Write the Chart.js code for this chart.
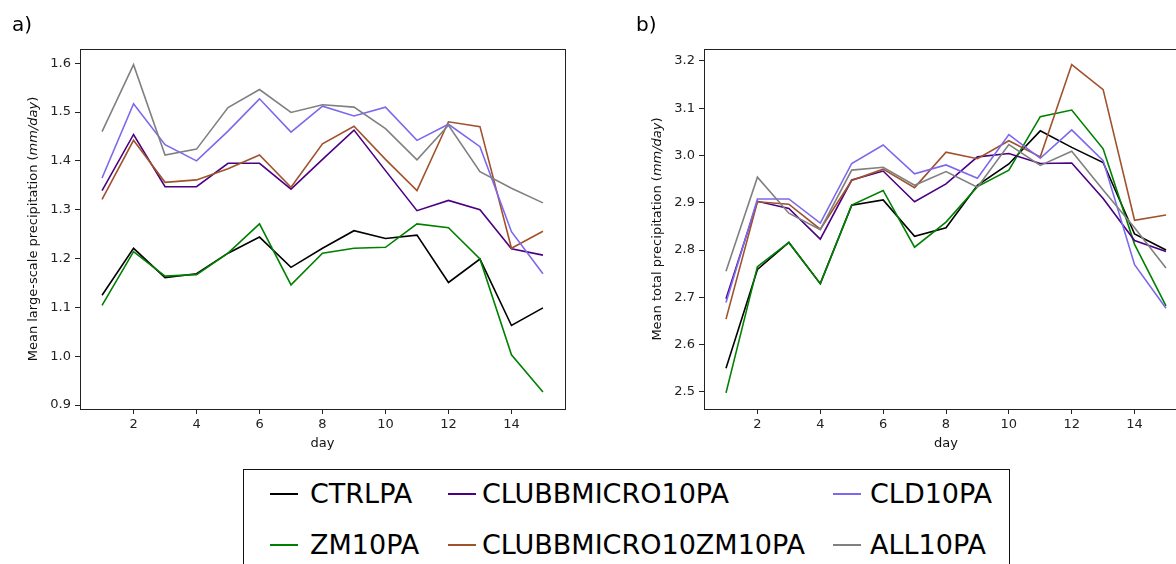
<!DOCTYPE html>
<html>
<head>
<meta charset="utf-8">
<script src="https://cdn.jsdelivr.net/npm/chart.js@4/dist/chart.umd.min.js"></script>
<style>
html,body{margin:0;padding:0;width:1176px;height:564px;overflow:hidden;background:#fff;font-family:"DejaVu Sans",sans-serif;}
#ca{position:absolute;left:0;top:0;}
#cb{position:absolute;left:620px;top:0;}
.pl{position:absolute;font-size:20px;line-height:20px;color:#000;white-space:nowrap;}
#legend{position:absolute;left:243px;top:469px;width:767px;height:140px;border:1px solid #111;box-sizing:border-box;}
.lgline{position:absolute;height:2px;width:28px;}
.lgtext{position:absolute;font-size:27px;line-height:27px;color:#000;white-space:nowrap;}
</style>
</head>
<body>
<canvas id="ca" width="600" height="460"></canvas>
<canvas id="cb" width="600" height="460"></canvas>
<div class="pl" style="left:12px;top:14px;">a)</div>
<div class="pl" style="left:636px;top:14px;">b)</div>
<div id="legend"></div>
<script>
// ---- data ----
const days = [1,2,3,4,5,6,7,8,9,10,11,12,13,14,15];
const dayTicks = [2,4,6,8,10,12,14];
const seriesNames = ['CTRLPA','ZM10PA','CLUBBMICRO10PA','CLUBBMICRO10ZM10PA','CLD10PA','ALL10PA'];
const seriesColors = ['#000000','#008000','#4b0082','#a0522d','#7b68ee','#808080'];

// panel a: mean large-scale precipitation (mm/day)
const lsCTRLPA            = [1.125,1.221,1.161,1.169,1.211,1.244,1.182,1.221,1.257,1.241,1.248,1.151,1.199,1.063,1.099];
const lsZM10PA            = [1.104,1.214,1.164,1.167,1.211,1.271,1.146,1.211,1.221,1.223,1.271,1.263,1.199,1.003,0.927];
const lsCLUBBMICRO10PA    = [1.339,1.454,1.347,1.347,1.395,1.395,1.342,1.403,1.463,1.380,1.298,1.319,1.300,1.220,1.207];
const lsCLUBBMICRO10ZM10PA= [1.321,1.442,1.356,1.361,1.384,1.412,1.346,1.435,1.471,1.403,1.339,1.480,1.470,1.221,1.256];
const lsCLD10PA           = [1.365,1.517,1.433,1.400,1.461,1.527,1.459,1.512,1.492,1.510,1.442,1.475,1.429,1.255,1.169];
const lsALL10PA           = [1.460,1.597,1.412,1.424,1.509,1.546,1.499,1.515,1.510,1.466,1.402,1.473,1.378,1.344,1.314];
const lsTicks = [0.9,1.0,1.1,1.2,1.3,1.4,1.5,1.6];

// panel b: mean total precipitation (mm/day)
const tpCTRLPA            = [2.550,2.759,2.816,2.729,2.895,2.906,2.829,2.847,2.937,2.982,3.052,3.017,2.985,2.834,2.800];
const tpZM10PA            = [2.498,2.765,2.816,2.729,2.895,2.926,2.806,2.859,2.934,2.969,3.082,3.096,3.014,2.812,2.682];
const tpCLUBBMICRO10PA    = [2.697,2.903,2.888,2.823,2.948,2.967,2.902,2.940,2.997,3.004,2.983,2.984,2.909,2.820,2.797];
const tpCLUBBMICRO10ZM10PA= [2.654,2.902,2.897,2.844,2.947,2.971,2.932,3.007,2.993,3.031,2.997,3.192,3.139,2.863,2.874];
const tpCLD10PA           = [2.689,2.908,2.908,2.857,2.983,3.022,2.961,2.980,2.952,3.044,2.994,3.054,2.989,2.769,2.677];
const tpALL10PA           = [2.755,2.954,2.878,2.843,2.969,2.975,2.937,2.966,2.933,3.023,2.979,3.009,2.927,2.847,2.762];
const tpTicks = [2.5,2.6,2.7,2.8,2.9,3.0,3.1,3.2];

const lsSeries = [lsCTRLPA,lsZM10PA,lsCLUBBMICRO10PA,lsCLUBBMICRO10ZM10PA,lsCLD10PA,lsALL10PA];
const tpSeries = [tpCTRLPA,tpZM10PA,tpCLUBBMICRO10PA,tpCLUBBMICRO10ZM10PA,tpCLD10PA,tpALL10PA];

const FONT = '"DejaVu Sans"';

const framePlugin = {
  id: 'frame',
  afterDatasetsDraw(chart) {
    const {ctx, chartArea: a} = chart;
    ctx.save();
    ctx.strokeStyle = '#222';
    ctx.lineWidth = 1;
    ctx.strokeRect(Math.round(a.left) + 0.5, Math.round(a.top) + 0.5,
                   Math.round(a.right - a.left), Math.round(a.bottom - a.top));
    ctx.restore();
  }
};

const axisTitlePlugin = {
  id: 'axisTitles',
  afterDraw(chart, args, opts) {
    const {ctx, chartArea: a} = chart;
    ctx.save();
    ctx.fillStyle = '#111';
    ctx.font = '13px ' + FONT;
    ctx.textAlign = 'center';
    ctx.textBaseline = 'alphabetic';
    ctx.fillText(opts.xTitle, (a.left + a.right) / 2, a.bottom + 38);
    const parts = opts.yParts;
    let total = 0;
    const widths = parts.map(p => {
      ctx.font = (p[1] ? 'italic ' : '') + '13px ' + FONT;
      const w = ctx.measureText(p[0]).width;
      total += w;
      return w;
    });
    ctx.translate(a.left - 46, (a.top + a.bottom) / 2);
    ctx.rotate(-Math.PI / 2);
    ctx.textAlign = 'left';
    ctx.textBaseline = 'middle';
    let x = -total / 2;
    parts.forEach((p, i) => {
      ctx.font = (p[1] ? 'italic ' : '') + '13px ' + FONT;
      ctx.fillText(p[0], x, 0);
      x += widths[i];
    });
    ctx.restore();
  }
};

function makeChart(id, series, yMin, yMax, yTicks, yAxisWidth, padRight, yParts) {
  return new Chart(document.getElementById(id), {
    type: 'line',
    data: {
      datasets: series.map((s, i) => ({
        label: seriesNames[i],
        data: days.map((d, j) => ({x: d, y: s[j]})),
        borderColor: seriesColors[i],
        backgroundColor: seriesColors[i],
        borderWidth: 1.6,
        pointRadius: 0,
        tension: 0,
        fill: false,
        order: -i
      }))
    },
    options: {
      responsive: false,
      animation: false,
      events: [],
      layout: {padding: {top: 49, right: padRight, bottom: 0, left: 0}},
      plugins: {
        legend: {display: false},
        tooltip: {enabled: false},
        axisTitles: {xTitle: 'day', yParts: yParts}
      },
      scales: {
        x: {
          type: 'linear', min: 0.3, max: 15.7,
          afterBuildTicks: sc => { sc.ticks = dayTicks.map(v => ({value: v})); },
          afterFit: sc => { sc.height = 51; },
          grid: {drawOnChartArea: false, drawTicks: true, tickLength: 5, color: '#222'},
          border: {display: false},
          ticks: {font: {family: FONT, size: 13}, color: '#222', padding: 3, maxRotation: 0, autoSkip: false,
                  callback: v => String(v)}
        },
        y: {
          type: 'linear', min: yMin, max: yMax,
          afterBuildTicks: sc => { sc.ticks = yTicks.map(v => ({value: v})); },
          afterFit: sc => { sc.width = yAxisWidth; },
          grid: {drawOnChartArea: false, drawTicks: true, tickLength: 5, color: '#222'},
          border: {display: false},
          ticks: {font: {family: FONT, size: 13}, color: '#222', padding: 4, autoSkip: false,
                  callback: v => Number(v).toFixed(1)}
        }
      }
    },
    plugins: [framePlugin, axisTitlePlugin]
  });
}

makeChart('ca', lsSeries, 0.892, 1.629, lsTicks, 80, 35,
  [['Mean large-scale precipitation (', false], ['mm/day', true], [')', false]]);
makeChart('cb', tpSeries, 2.464, 3.225, tpTicks, 84, 32,
  [['Mean total precipitation (', false], ['mm/day', true], [')', false]]);

// ---- legend (matplotlib style, 3 columns, column-major order) ----
const lgLineX = [26, 204, 589];
const lgTextX = [66, 238, 626];
const lgRowLineY = [23, 74];
const lgRowTextTop = [10, 61];
const legend = document.getElementById('legend');
seriesNames.forEach((name, i) => {
  const col = Math.floor(i / 2), row = i % 2;
  const ln = document.createElement('div');
  ln.className = 'lgline';
  ln.style.left = lgLineX[col] + 'px';
  ln.style.top = lgRowLineY[row] + 'px';
  ln.style.background = seriesColors[i];
  legend.appendChild(ln);
  const tx = document.createElement('div');
  tx.className = 'lgtext';
  tx.style.left = lgTextX[col] + 'px';
  tx.style.top = lgRowTextTop[row] + 'px';
  tx.textContent = name;
  legend.appendChild(tx);
});
</script>
</body>
</html>
